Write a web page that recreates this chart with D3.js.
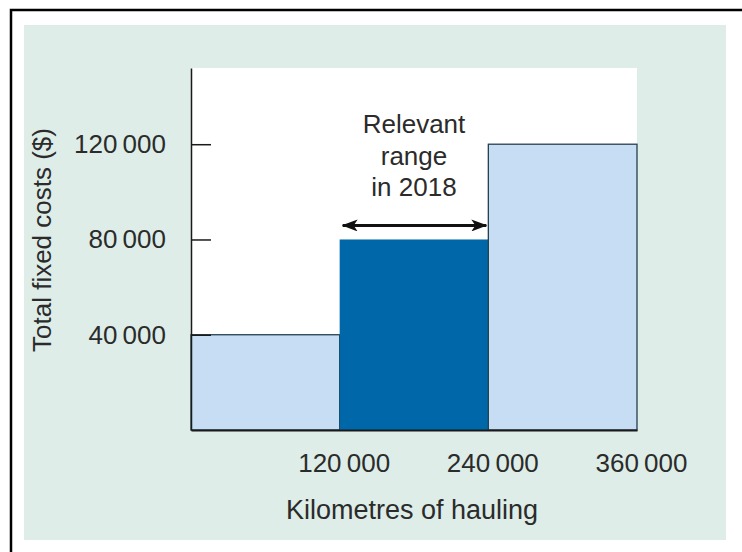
<!DOCTYPE html>
<html>
<head>
<meta charset="utf-8">
<script src="https://cdn.jsdelivr.net/npm/d3@7"></script>
<style>
  html, body { margin: 0; padding: 0; background: #ffffff; }
  svg { display: block; }
  text { font-family: "Liberation Sans", Arial, Helvetica, sans-serif; fill: #2b2b2b; }
</style>
</head>
<body>
<svg id="chart" width="742" height="552"></svg>
<script>
// ---- data ----
const binStarts = [0, 120000, 240000];
const binEnds = [120000, 240000, 360000];
const totalFixedCosts = [40000, 80000, 120000];
const isRelevantRange = [false, true, false];
const yTickValues = [40000, 80000, 120000];
const yTickLabels = ["40\u2009000", "80\u2009000", "120\u2009000"];
const xTickValues = [120000, 240000, 360000];
const xTickLabels = ["120\u2009000", "240\u2009000", "360\u2009000"];
const annotationLines = ["Relevant", "range", "in 2018"];
const xTitle = "Kilometres of hauling";
const yTitle = "Total fixed costs ($)";

const FONT = "'Liberation Sans', Arial, Helvetica, sans-serif";
const svg = d3.select("#chart");

// outer frame
svg.append("path")
  .attr("d", "M11,560 L11,10 L750,10")
  .attr("fill", "none").attr("stroke", "#000").attr("stroke-width", 2.5);

// green panel
svg.append("rect").attr("x", 24).attr("y", 25).attr("width", 702).attr("height", 515)
  .attr("fill", "#deede8");

const x = d3.scaleLinear().domain([0, 360000]).range([191, 637]);
const y = d3.scaleLinear().domain([0, 152000]).range([430, 68]);

// white plot area
svg.append("rect")
  .attr("x", x(0)).attr("y", y(152000))
  .attr("width", x(360000) - x(0)).attr("height", y(0) - y(152000))
  .attr("fill", "#ffffff");

// bars
const bars = binStarts.map((s, i) => ({ s, e: binEnds[i], v: totalFixedCosts[i], hi: isRelevantRange[i] }));
svg.append("g").selectAll("rect").data(bars).join("rect")
  .attr("x", d => x(d.s))
  .attr("y", d => y(d.v))
  .attr("width", d => x(d.e) - x(d.s))
  .attr("height", d => y(0) - y(d.v))
  .attr("fill", d => d.hi ? "#0068a8" : "#c6ddf3")
  .attr("stroke", d => d.hi ? "none" : "#24404f")
  .attr("stroke-width", 1.3);

// y axis
const yAxis = d3.axisLeft(y).tickValues(yTickValues)
  .tickFormat((d, i) => yTickLabels[i])
  .tickSizeInner(-20).tickSizeOuter(0).tickPadding(25);
const gy = svg.append("g").attr("transform", `translate(${x(0)},0)`).call(yAxis);
gy.select(".domain").attr("stroke", "#1a1a1a").attr("stroke-width", 1.5);
gy.selectAll(".tick line").attr("stroke", "#1a1a1a").attr("stroke-width", 1.5);
gy.selectAll(".tick text").attr("font-size", 26).attr("fill", "#2b2b2b")
  .style("font-family", FONT);

// x axis
const xAxis = d3.axisBottom(x).tickValues(xTickValues)
  .tickFormat((d, i) => xTickLabels[i])
  .tickSizeInner(0).tickSizeOuter(0).tickPadding(24);
const gx = svg.append("g").attr("transform", `translate(0,${y(0)})`).call(xAxis);
gx.select(".domain").attr("stroke", "#1a1a1a").attr("stroke-width", 1.8);
gx.selectAll(".tick text").attr("font-size", 26).attr("dx", 4).attr("fill", "#2b2b2b")
  .style("font-family", FONT);

// axis titles
svg.append("text")
  .attr("x", 412).attr("y", 519)
  .attr("text-anchor", "middle").attr("font-size", 27)
  .text(xTitle);

svg.append("text")
  .attr("transform", `translate(51,240) rotate(-90)`)
  .attr("text-anchor", "middle").attr("font-size", 26)
  .text(yTitle);

// annotation
const midX = (x(binStarts[1]) + x(binEnds[1])) / 2;
const ann = svg.append("text").attr("text-anchor", "middle").attr("font-size", 26);
annotationLines.forEach((t, i) => {
  ann.append("tspan").attr("x", midX).attr("y", 133 + i * 31.5).text(t);
});

// double-headed arrow
const defs = svg.append("defs");
defs.append("marker").attr("id", "ah")
  .attr("viewBox", "0 0 16 12").attr("refX", 15).attr("refY", 6)
  .attr("markerWidth", 16).attr("markerHeight", 12)
  .attr("markerUnits", "userSpaceOnUse")
  .attr("orient", "auto-start-reverse")
  .append("path").attr("d", "M0,0 L16,6 L0,12 L4,6 Z").attr("fill", "#111");

const arrowY = y(totalFixedCosts[1]) - 14;
svg.append("line")
  .attr("x1", x(binStarts[1]) + 3).attr("x2", x(binEnds[1]) - 2)
  .attr("y1", arrowY).attr("y2", arrowY)
  .attr("stroke", "#111").attr("stroke-width", 3)
  .attr("marker-start", "url(#ah)").attr("marker-end", "url(#ah)");
</script>
</body>
</html>
